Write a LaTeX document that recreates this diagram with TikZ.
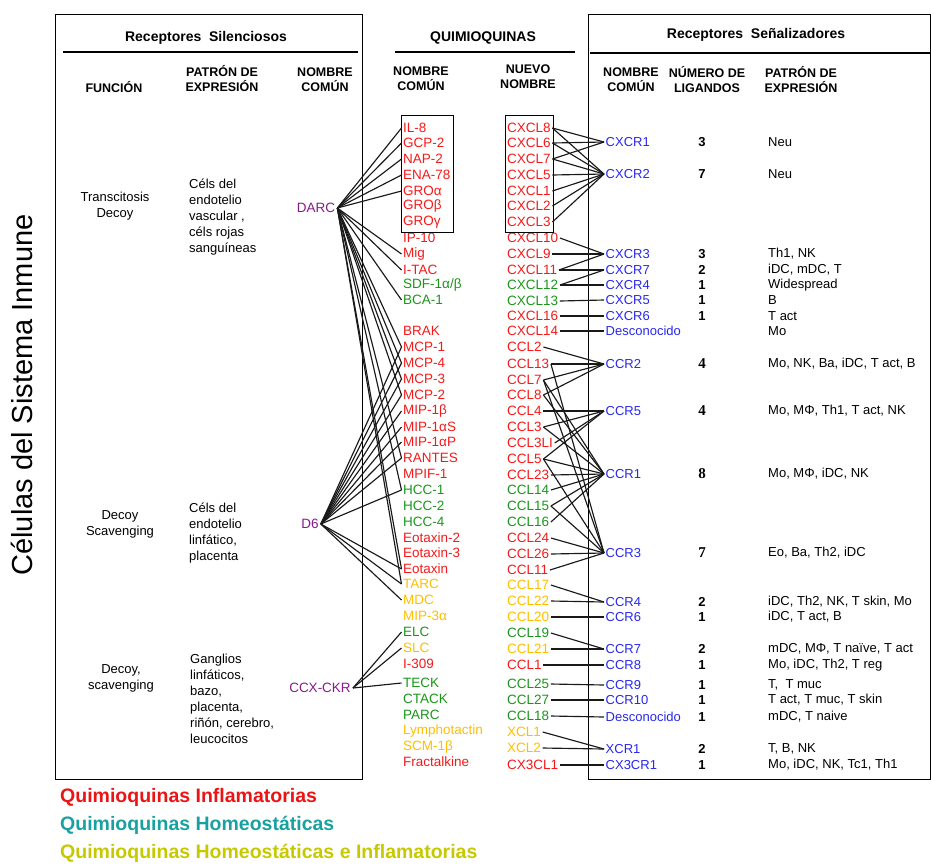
\documentclass[tikz,border=0pt]{standalone}
\usepackage{fontspec}
\setmainfont{Liberation Sans}
\newfontfamily\numserif{Liberation Serif}
\usetikzlibrary{positioning}

\definecolor{infl}{RGB}{245,25,25}
\definecolor{homeo}{RGB}{25,150,25}
\definecolor{mixta}{RGB}{255,190,0}
\definecolor{recep}{RGB}{40,40,235}
\definecolor{silen}{RGB}{135,25,140}
\definecolor{leyinfl}{RGB}{235,20,20}
\definecolor{leyhomeo}{RGB}{25,160,160}
\definecolor{leymixta}{RGB}{200,200,0}
\newcommand\nserif[1]{{\numserif\bfseries\fontsize{15}{16}\selectfont #1}}

\begin{document}
\begin{tikzpicture}[x=1pt,y=-1pt,
  qn/.style={anchor=west,inner sep=1.5pt,font=\fontsize{13.5}{15}\selectfont},
  rc/.style={anchor=west,inner sep=1.5pt,text=recep,font=\fontsize{13}{15}\selectfont},
  nlig/.style={inner sep=1pt,font=\fontsize{13}{15}\selectfont\bfseries},
  patron/.style={anchor=west,inner sep=1pt,font=\fontsize{13}{15}\selectfont},
  hdr/.style={align=center,inner sep=1pt,font=\fontsize{12.5}{15}\selectfont\bfseries},
  titulo/.style={inner sep=1pt,font=\fontsize{14}{16}\selectfont\bfseries},
  celda/.style={align=left,anchor=north west,inner sep=0pt,font=\fontsize{13}{16}\selectfont},
  funcion/.style={align=center,inner sep=0pt,font=\fontsize{13}{16}\selectfont},
  silencioso/.style={inner sep=2pt,text=silen,font=\fontsize{13.5}{15}\selectfont},
  leyenda/.style={anchor=west,inner sep=0pt,font=\fontsize{19.5}{21}\selectfont\bfseries},
  lk/.style={draw=black!90,line width=1.15pt}]

\useasboundingbox (0,0) rectangle (931,863);

\draw[line width=1pt] (55,14) rectangle (362,779);
\draw[line width=1pt] (588,14) rectangle (930.5,779);
\draw[line width=2pt] (63,52) -- (358,52);
\draw[line width=2pt] (395,52) -- (575,52);
\draw[line width=2pt] (590,53) -- (931,53);

\node[titulo] (silenciosos) at (206,38) {Receptores\ \ Silenciosos};
\node[titulo] (quimio) at (483,38) {QUIMIOQUINAS};
\node[titulo] (senal) at (756,35) {Receptores\ \ Señalizadores};

\node[hdr] (funcion1) at (114,87) {FUNCIÓN};
\node[hdr] (patron1) at (222,79) {PATRÓN DE\\EXPRESIÓN};
\node[hdr] (comun1) at (325,80) {NOMBRE\\COMÚN};
\node[hdr] (comun2) at (421,79) {NOMBRE\\COMÚN};
\node[hdr] (nuevo) at (528,77) {NUEVO\\NOMBRE};
\node[hdr] (comun3) at (631,80) {NOMBRE\\COMÚN};
\node[hdr] (ligandos) at (707,80) {NÚMERO DE\\LIGANDOS};
\node[hdr] (patron2) at (801,80) {PATRÓN DE\\EXPRESIÓN};

\node[rotate=90,inner sep=0pt,font=\fontsize{29}{31}\selectfont] (celulas) at (22,395) {Células del Sistema Inmune};

\node[funcion] (func1) at (115,206) {Transcitosis\\Decoy};
\node[celda] (expr1) at (189,179) {Céls del\\endotelio\\vascular ,\\céls rojas\\sanguíneas};
\node[silencioso] (darc) at (316,208) {DARC};

\node[funcion] (func2) at (120,524) {Decoy\\Scavenging};
\node[celda] (expr2) at (189,503) {Céls del\\endotelio\\linfático,\\placenta};
\node[silencioso] (d6) at (310,524) {D6};

\node[funcion] (func3) at (121,678) {Decoy,\\scavenging};
\node[celda] (expr3) at (190,654) {Ganglios\\linfáticos,\\bazo,\\placenta,\\riñón, cerebro,\\leucocitos};
\node[silencioso] (ccxckr) at (320,688) {CCX-CKR};

\foreach \nm/\tx/\cl/\yy in {
  il8/IL-8/infl/128, gcp2/GCP-2/infl/143, nap2/NAP-2/infl/159,
  ena78/ENA-78/infl/175, groa/GROα/infl/191, grob/GROβ/infl/206,
  grog/GROγ/infl/222, ip10/IP-10/infl/238, mig/Mig/infl/254,
  itac/I-TAC/infl/270, sdf1/SDF-1α\slash β/homeo/285, bca1/BCA-1/homeo/300,
  brak/BRAK/infl/331, mcp1/MCP-1/infl/347, mcp4/MCP-4/infl/363,
  mcp3/MCP-3/infl/379, mcp2/MCP-2/infl/395, mip1b/MIP-1β/infl/411,
  mip1as/MIP-1αS/infl/427, mip1ap/MIP-1αP/infl/442, rantes/RANTES/infl/458,
  mpif1/MPIF-1/infl/474, hcc1/HCC-1/homeo/490, hcc2/HCC-2/homeo/506,
  hcc4/HCC-4/homeo/522, eot2/Eotaxin-2/infl/538, eot3/Eotaxin-3/infl/553,
  eot/Eotaxin/infl/569, tarc/TARC/mixta/584, mdc/MDC/mixta/600,
  mip3a/MIP-3α/mixta/616, elc/ELC/homeo/632, slc/SLC/mixta/648,
  i309/I-309/infl/664, teck/TECK/homeo/683, ctack/CTACK/homeo/699,
  parc/PARC/homeo/715, lymph/Lymphotactin/mixta/731, scm1b/SCM-1β/mixta/747,
  fkn/Fractalkine/infl/762}
  \node[qn,text=\cl] (\nm) at (401.5,\yy) {\tx};

\foreach \nm/\tx/\cl/\yy in {
  cxcl8/CXCL8/infl/128, cxcl6/CXCL6/infl/143, cxcl7/CXCL7/infl/159,
  cxcl5/CXCL5/infl/175, cxcl1/CXCL1/infl/191, cxcl2/CXCL2/infl/206,
  cxcl3/CXCL3/infl/222, cxcl10/CXCL10/infl/238, cxcl9/CXCL9/infl/254,
  cxcl11/CXCL11/infl/270, cxcl12/CXCL12/homeo/285, cxcl13/CXCL13/homeo/301,
  cxcl16/CXCL16/infl/316, cxcl14/CXCL14/infl/331, ccl2/CCL2/infl/347,
  ccl13/CCL13/infl/364, ccl7/CCL7/infl/380, ccl8/CCL8/infl/395,
  ccl4/CCL4/infl/411, ccl3/CCL3/infl/427, ccl3l1/CCL3LI/infl/443,
  ccl5/CCL5/infl/459, ccl23/CCL23/infl/475, ccl14/CCL14/homeo/490,
  ccl15/CCL15/homeo/506, ccl16/CCL16/homeo/522, ccl24/CCL24/infl/538,
  ccl26/CCL26/infl/554, ccl11/CCL11/infl/570, ccl17/CCL17/mixta/585,
  ccl22/CCL22/mixta/601, ccl20/CCL20/mixta/617, ccl19/CCL19/homeo/633,
  ccl21/CCL21/mixta/649, ccl1/CCL1/infl/665, ccl25/CCL25/homeo/684,
  ccl27/CCL27/homeo/700, ccl18/CCL18/homeo/716, xcl1/XCL1/mixta/732,
  xcl2/XCL2/mixta/748, cx3cl1/CX3CL1/infl/765}
  \node[qn,text=\cl] (\nm) at (505.5,\yy) {\tx};

\draw (401,115) rectangle (453,232);
\draw (505,115) rectangle (553,232);

\foreach \nm/\tx/\yy/\num/\pat in {
  cxcr1/CXCR1/142/3/Neu, cxcr2/CXCR2/174/7/Neu,
  cxcr3/CXCR3/254/3/{Th1, NK}, cxcr7/CXCR7/270/2/{iDC, mDC, T},
  cxcr4/CXCR4/285/1/Widespread, cxcr5/CXCR5/300/1/B,
  cxcr6/CXCR6/316/1/T act, descx/Desconocido/331//Mo,
  ccr2/CCR2/364/{\nserif{4}}/{Mo, NK, Ba, iDC, T act, B},
  ccr5/CCR5/411/{\nserif{4}}/{Mo, MΦ, Th1, T act, NK},
  ccr1/CCR1/474/{\nserif{8}}/{Mo, MΦ, iDC, NK},
  ccr3/CCR3/553/{\nserif{7}}/{Eo, Ba, Th2, iDC},
  ccr4/CCR4/602/2/{iDC, Th2, NK, T skin, Mo}, ccr6/CCR6/617/1/{iDC, T act, B},
  ccr7/CCR7/649/2/{mDC, MΦ, T naïve, T act}, ccr8/CCR8/665/1/{Mo, iDC, Th2, T reg},
  ccr9/CCR9/685/1/{T, \ T muc}, ccr10/CCR10/700/1/{T act, T muc, T skin},
  descc/Desconocido/717/1/{mDC, T naive}, xcr1/XCR1/749/2/{T, B, NK},
  cx3cr1/CX3CR1/765/1/{Mo, iDC, NK, Tc1, Th1}}
  {
  \node[rc] (\nm) at (604,\yy) {\tx};
  \node[nlig] (n\nm) at (702,\yy) {\num};
  \node[patron] (p\nm) at (767,\yy) {\pat};
  }

\foreach \a/\b in {darc/il8, darc/gcp2, darc/nap2, darc/ena78, darc/groa,
  darc/mig, darc/itac, darc/bca1, darc/mcp1, darc/mcp4, darc/mcp3, darc/mcp2,
  darc/rantes, darc/hcc1, darc/eot, darc/tarc,
  d6/mcp1, d6/mcp4, d6/mcp3, d6/mcp2, d6/mip1b, d6/mip1as, d6/mip1ap,
  d6/rantes, d6/hcc1, d6/eot, d6/tarc, d6/mdc,
  ccxckr/elc, ccxckr/slc, ccxckr/teck}
  \draw[lk] (\a.east) -- (\b.west);

\foreach \a/\b in {cxcl8/cxcr1, cxcl6/cxcr1, cxcl7/cxcr1,
  cxcl8/cxcr2, cxcl6/cxcr2, cxcl7/cxcr2, cxcl5/cxcr2, cxcl1/cxcr2, cxcl2/cxcr2, cxcl3/cxcr2,
  cxcl10/cxcr3, cxcl9/cxcr3, cxcl11/cxcr3, cxcl11/cxcr7, cxcl12/cxcr7,
  cxcl12/cxcr4, cxcl13/cxcr5, cxcl16/cxcr6, cxcl14/descx,
  ccl2/ccr2, ccl13/ccr2, ccl7/ccr2, ccl8/ccr2,
  ccl4/ccr5, ccl3/ccr5, ccl3l1/ccr5, ccl5/ccr5,
  ccl3/ccr1, ccl5/ccr1, ccl7/ccr1, ccl8/ccr1, ccl23/ccr1, ccl14/ccr1, ccl15/ccr1, ccl16/ccr1,
  ccl5/ccr3, ccl7/ccr3, ccl13/ccr3, ccl15/ccr3, ccl24/ccr3, ccl26/ccr3, ccl11/ccr3,
  ccl17/ccr4, ccl22/ccr4, ccl20/ccr6, ccl19/ccr7, ccl21/ccr7, ccl1/ccr8,
  ccl25/ccr9, ccl27/ccr10, ccl18/descc, xcl1/xcr1, xcl2/xcr1, cx3cl1/cx3cr1}
  \draw[lk] (\a.east) -- (\b.west);

\node[leyenda,text=leyinfl] (leyinfl) at (60,797) {Quimioquinas Inflamatorias};
\node[leyenda,text=leyhomeo] (leyhomeo) at (60,825) {Quimioquinas Homeostáticas};
\node[leyenda,text=leymixta] (leymixta) at (60,853) {Quimioquinas Homeostáticas e Inflamatorias};
\end{tikzpicture}
\end{document}
